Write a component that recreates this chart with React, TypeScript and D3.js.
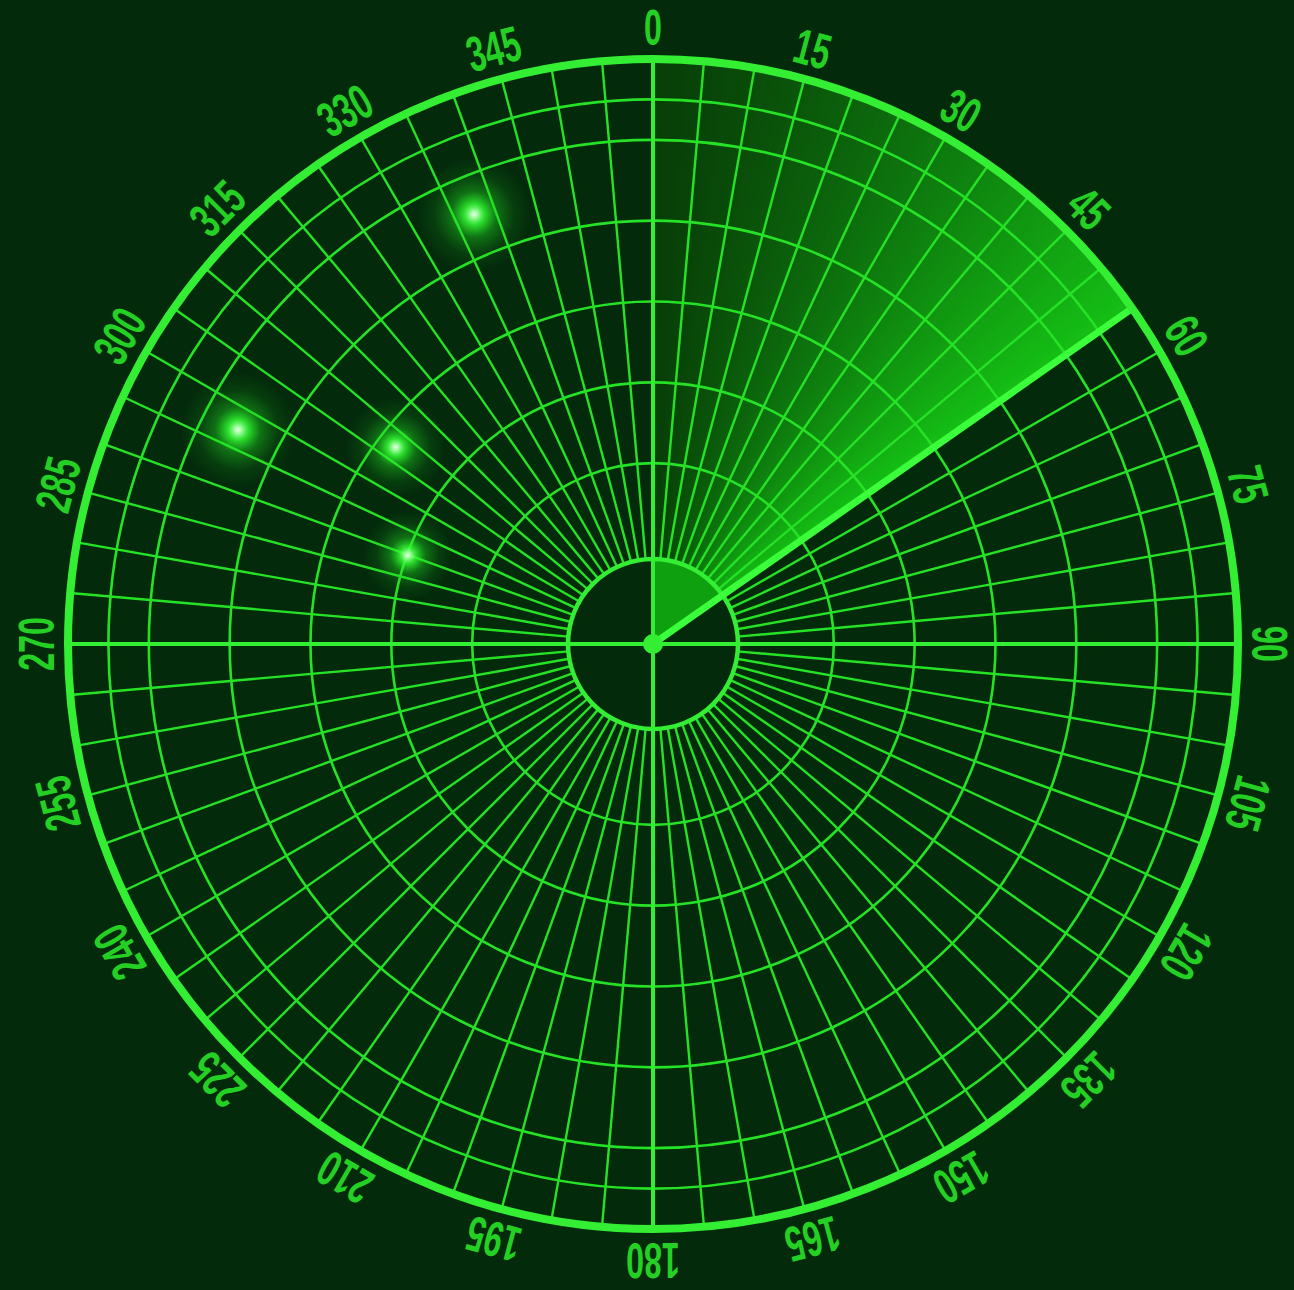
import React from "react";
import * as d3 from "d3";

// ---- data ----
const bearingLabels = [0, 15, 30, 45, 60, 75, 90, 105, 120, 135, 150, 165, 180, 195, 210, 225, 240, 255, 270, 285, 300, 315, 330, 345];
const spokeAngles = d3.range(0, 360, 5);
const mainAxes = [0, 90, 180, 270];
const rangeRings = [1, 2, 3, 4, 5, 5.5];
const maxRange = 6;
const sweepAngle = 55;
const blipBearings = [337.4, 297.3, 307.4, 289.9];
const blipRanges = [4.52, 4.54, 2.77, 1.99];
const blipSizes = [1.15, 1.15, 1.0, 0.9];

const W = 1294;
const H = 1290;
const cx = 653;
const cy = 644;
const outerR = 585;
const innerR = 85;
const labelR = 616;

const BG = "#032a0b";
const GRID = "#26e226";
const RING = "#33ee33";

export default function App() {
  const rScale = d3.scaleLinear().domain([0, maxRange]).range([100, outerR]);
  const rad = (deg: number) => (deg * Math.PI) / 180;
  const pt = (deg: number, r: number): [number, number] => [cx + r * Math.sin(rad(deg)), cy - r * Math.cos(rad(deg))];

  const step = 0.5;
  const wedgeStarts = d3.range(0, sweepAngle, step);
  const colorInterp = d3.interpolateRgb("#083f08", "#15c015");
  const arcGen = d3.arc<any>();

  const blips = blipBearings.map((b, i) => {
    const [x, y] = pt(b, rScale(blipRanges[i]));
    return { x, y, s: blipSizes[i] };
  });

  return (
    <svg width={W} height={H} style={{ position: "absolute", left: 0, top: 0, background: BG }}>
      <defs>
        <radialGradient id="blip">
          <stop offset="0" stopColor="#f0fff0" stopOpacity={1} />
          <stop offset="0.06" stopColor="#a0ffa0" stopOpacity={1} />
          <stop offset="0.18" stopColor="#33ff33" stopOpacity={0.85} />
          <stop offset="0.4" stopColor="#22dd22" stopOpacity={0.4} />
          <stop offset="0.7" stopColor="#22cc22" stopOpacity={0.12} />
          <stop offset="1" stopColor="#22cc22" stopOpacity={0} />
        </radialGradient>
      </defs>
      <rect x={0} y={0} width={W} height={H} fill={BG} />

      {/* sweep sector */}
      <g transform={`translate(${cx},${cy})`}>
        {wedgeStarts.map((a) => {
          const t = a / sweepAngle;
          const d = arcGen({
            innerRadius: innerR,
            outerRadius: outerR,
            startAngle: rad(a),
            endAngle: rad(Math.min(a + step + 0.25, sweepAngle)),
          });
          return <path key={a} d={d || ""} fill={colorInterp(Math.pow(t, 1.3))} />;
        })}
        <path
          d={arcGen({ innerRadius: 0, outerRadius: innerR, startAngle: 0, endAngle: rad(sweepAngle) }) || ""}
          fill="#0fa00f"
        />
      </g>

      {/* spokes */}
      {spokeAngles
        .filter((a) => !mainAxes.includes(a))
        .map((a) => {
          const [x1, y1] = pt(a, innerR);
          const [x2, y2] = pt(a, outerR);
          return <line key={a} x1={x1} y1={y1} x2={x2} y2={y2} stroke={GRID} strokeWidth={2.4} />;
        })}

      {/* rings */}
      {rangeRings.map((v) => (
        <circle key={v} cx={cx} cy={cy} r={rScale(v)} fill="none" stroke={GRID} strokeWidth={2.6} />
      ))}

      {/* main axes */}
      {mainAxes.map((a) => {
        const [x2, y2] = pt(a, outerR);
        return <line key={a} x1={cx} y1={cy} x2={x2} y2={y2} stroke={RING} strokeWidth={4} />;
      })}

      {/* inner circle */}
      <circle cx={cx} cy={cy} r={innerR} fill="none" stroke={RING} strokeWidth={4.5} />

      {/* sweep line */}
      {(() => {
        const [x2, y2] = pt(sweepAngle, outerR);
        return <line x1={cx} y1={cy} x2={x2} y2={y2} stroke="#3bff3b" strokeWidth={7} />;
      })()}
      <circle cx={cx} cy={cy} r={10} fill={RING} />

      {/* outer ring */}
      <circle cx={cx} cy={cy} r={outerR} fill="none" stroke={RING} strokeWidth={8} />

      {/* blips */}
      {blips.map((b, i) => (
        <circle key={i} cx={b.x} cy={b.y} r={50 * b.s} fill="url(#blip)" />
      ))}

      {/* labels */}
      {bearingLabels.map((a) => {
        const [x, y] = pt(a, labelR);
        return (
          <text
            key={a}
            transform={`translate(${x},${y}) rotate(${a}) scale(0.7,1.08)`}
            textAnchor="middle"
            dominantBaseline="central"
            fontFamily="'Liberation Sans', Arial, sans-serif"
            fontWeight="bold"
            fontSize={46}
            fill="#25d025"
          >
            {a}
          </text>
        );
      })}
    </svg>
  );
}
